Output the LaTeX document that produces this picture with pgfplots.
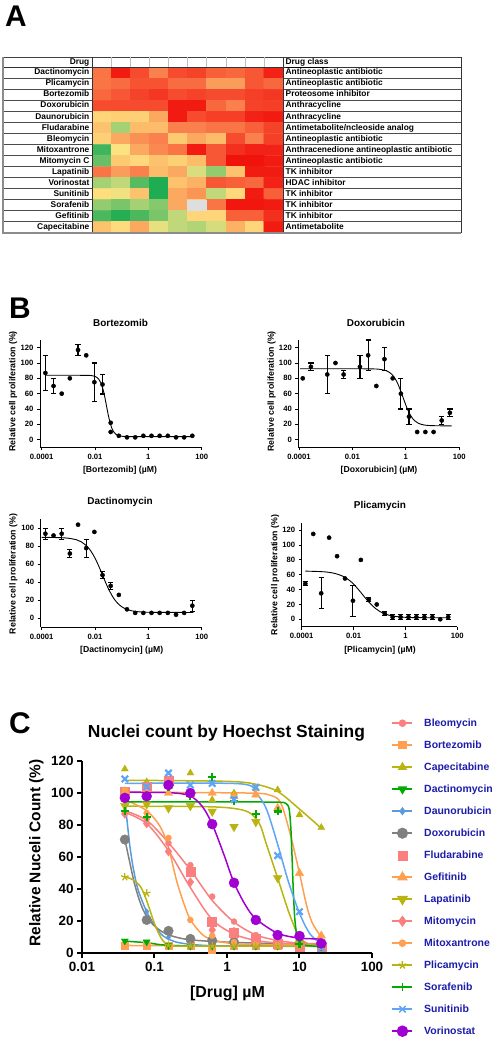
\documentclass[border=0pt]{standalone}
\usepackage{fontspec}
\setmainfont{Liberation Sans}
\usepackage{pgfplots}
\pgfplotsset{compat=1.18}

\definecolor{cSalmon}{RGB}{250,128,128}
\definecolor{cOrange}{RGB}{255,160,80}
\definecolor{cOlive}{RGB}{185,180,15}
\definecolor{cGreen}{RGB}{0,170,0}
\definecolor{cBlue}{RGB}{90,155,220}
\definecolor{cBlue2}{RGB}{95,165,245}
\definecolor{cGray}{RGB}{128,128,128}
\definecolor{cPurple}{RGB}{160,0,210}
\definecolor{legblue}{RGB}{28,28,170}
\newcommand{\fs}[1]{\fontsize{#1}{#1}\selectfont}

\pgfplotsset{
 ptsB/.style={only marks, mark=*, mark size=2.1bp, black, mark options={draw=black, fill=black}},
 ebB/.style={ptsB, error bars/y dir=both, error bars/y explicit,
  error bars/error bar style={line width=1.1bp, black},
  error bars/error mark options={rotate=90, mark size=2.6bp, line width=1.1bp, black}},
 fitB/.style={black, line width=0.9bp, smooth, mark=none},
 cC/.style={line width=1.5bp, smooth, mark=none},
 pC/.style={only marks, forget plot},
}

\begin{document}
\begin{tikzpicture}
\useasboundingbox (0,0) rectangle (501bp,-1049bp);

% ================= Panel A heatmap
\begin{axis}[at={(92bp,-67.3bp)}, anchor=north west, scale only axis, width=191bp, height=165.4bp,
  xmin=-0.5, xmax=9.5, ymin=-0.5, ymax=14.5, y dir=reverse, axis lines=none,
  colormap={hm}{rgb255=(20,170,80) rgb255=(100,190,100) rgb255=(185,215,120) rgb255=(255,228,130) rgb255=(252,188,105) rgb255=(250,132,78) rgb255=(246,72,45) rgb255=(240,15,10)},
  point meta min=0, point meta max=1]
\addplot[matrix plot*, mesh/cols=10, point meta=explicit] coordinates {
(0,0)[0.75] (1,0)[0.97] (2,0)[0.85] (3,0)[0.72] (4,0)[0.85] (5,0)[0.87] (6,0)[0.80] (7,0)[0.78] (8,0)[0.82] (9,0)[0.95]
(0,1)[0.75] (1,1)[0.77] (2,1)[0.83] (3,1)[0.83] (4,1)[0.77] (5,1)[0.77] (6,1)[0.65] (7,1)[0.65] (8,1)[0.82] (9,1)[0.78]
(0,2)[0.78] (1,2)[0.82] (2,2)[0.87] (3,2)[0.90] (4,2)[0.85] (5,2)[0.87] (6,2)[0.85] (7,2)[0.85] (8,2)[0.88] (9,2)[0.90]
(0,3)[0.85] (1,3)[0.85] (2,3)[0.85] (3,3)[0.85] (4,3)[0.97] (5,3)[0.97] (6,3)[0.78] (7,3)[0.72] (8,3)[0.87] (9,3)[0.88]
(0,4)[0.48] (1,4)[0.50] (2,4)[0.50] (3,4)[0.62] (4,4)[0.97] (5,4)[0.85] (6,4)[0.88] (7,4)[0.88] (8,4)[0.95] (9,4)[0.97]
(0,5)[0.55] (1,5)[0.25] (2,5)[0.57] (3,5)[0.57] (4,5)[0.72] (5,5)[0.72] (6,5)[0.75] (7,5)[0.75] (8,5)[0.80] (9,5)[0.87]
(0,6)[0.50] (1,6)[0.62] (2,6)[0.68] (3,6)[0.72] (4,6)[0.52] (5,6)[0.62] (6,6)[0.57] (7,6)[0.85] (8,6)[0.72] (9,6)[0.88]
(0,7)[0.08] (1,7)[0.42] (2,7)[0.62] (3,7)[0.70] (4,7)[0.75] (5,7)[0.97] (6,7)[0.82] (7,7)[0.92] (8,7)[0.95] (9,7)[0.95]
(0,8)[0.15] (1,8)[0.52] (2,8)[0.47] (3,8)[0.55] (4,8)[0.50] (5,8)[0.57] (6,8)[0.82] (7,8)[0.99] (8,8)[0.99] (9,8)[0.97]
(0,9)[0.75] (1,9)[0.65] (2,9)[0.72] (3,9)[0.57] (4,9)[0.62] (5,9)[0.35] (6,9)[0.22] (7,9)[0.55] (8,9)[0.97] (9,9)[0.97]
(0,10)[0.25] (1,10)[0.30] (2,10)[0.12] (3,10)[0.02] (4,10)[0.55] (5,10)[0.60] (6,10)[0.82] (7,10)[0.80] (8,10)[0.78] (9,10)[0.95]
(0,11)[0.45] (1,11)[0.40] (2,11)[0.55] (3,11)[0.02] (4,11)[0.62] (5,11)[0.67] (6,11)[0.30] (7,11)[0.47] (8,11)[0.97] (9,11)[0.80]
(0,12)[0.22] (1,12)[0.18] (2,12)[0.25] (3,12)[0.20] (4,12)[0.62] (5,12)[0.50] (6,12)[0.75] (7,12)[0.98] (8,12)[0.98] (9,12)[0.97]
(0,13)[0.10] (1,13)[0.03] (2,13)[0.10] (3,13)[0.18] (4,13)[0.30] (5,13)[0.48] (6,13)[0.48] (7,13)[0.80] (8,13)[0.80] (9,13)[0.92]
(0,14)[0.55] (1,14)[0.46] (2,14)[0.62] (3,14)[0.38] (4,14)[0.30] (5,14)[0.27] (6,14)[0.34] (7,14)[0.60] (8,14)[0.48] (9,14)[0.97]
};
\addplot[fill=black!13, draw=none] coordinates {(4.5,11.5) (5.5,11.5) (5.5,12.5) (4.5,12.5)} -- cycle;
\end{axis}

\begin{scope}[x=1bp,y=-1bp]
\node[anchor=base west, inner sep=0, font=\bfseries\fs{30}] at (5,26) {A};
\draw[line width=0.6bp, black!75] (3,57) -- (461,57);
\draw[line width=0.8bp, black!80] (3,67.3) -- (461,67.3);
\foreach \k in {1,...,14} {
  \draw[line width=0.5bp, black!70] (3,{67.3+11.03*\k}) -- (92,{67.3+11.03*\k});
  \draw[line width=0.5bp, black!70] (283,{67.3+11.03*\k}) -- (461,{67.3+11.03*\k});
}
\foreach \k in {1,...,9} { \draw[line width=0.4bp, black!25] ({92+19.1*\k},57) -- ({92+19.1*\k},67.3); }
\draw[line width=0.7bp, black!80] (92,57) -- (92,233);
\draw[line width=0.7bp, black!80] (283,57) -- (283,233);
\draw[line width=0.7bp, black!80] (461,57) -- (461,233);
\draw[line width=1.4bp, black!45] (3,57) -- (3,233) -- (461,233);
\node[anchor=east, inner sep=0, font=\bfseries\fs{8.4}, text height=6bp, text depth=1.8bp] at (89.5,62.2) {\underline{Drug}};
\node[anchor=west, inner sep=0, font=\bfseries\fs{8.4}, text height=6bp, text depth=1.8bp] at (285.5,62.2) {\underline{Drug class}};
\foreach \n [count=\i from 0] in {Dactinomycin,Plicamycin,Bortezomib,Doxorubicin,Daunorubicin,Fludarabine,Bleomycin,Mitoxantrone,Mitomycin C,Lapatinib,Vorinostat,Sunitinib,Sorafenib,Gefitinib,Capecitabine}
  \node[anchor=east, inner sep=0, font=\bfseries\fs{8.4}, text height=6bp, text depth=1.8bp] at (89.5,{72.8+11.03*\i}) {\n};
\foreach \n [count=\i from 0] in {Antineoplastic antibiotic,Antineoplastic antibiotic,Proteosome inhibitor,Anthracycline,Anthracycline,Antimetabolite/ncleoside analog,Antineoplastic antibiotic,Anthracenedione antineoplastic antibiotic,Antineoplastic antibiotic,TK inhibitor,HDAC inhibitor,TK inhibitor,TK inhibitor,TK inhibitor,Antimetabolite}
  \node[anchor=west, inner sep=0, font=\bfseries\fs{8.4}, text height=6bp, text depth=1.8bp] at (285.5,{72.8+11.03*\i}) {\n};

\node[anchor=base west, inner sep=0, font=\bfseries\fs{30}] at (9,318.3) {B};
\node[font=\bfseries\fs{10}] at (120.5,322.7) {Bortezomib};
\node[font=\bfseries\fs{10}] at (376,322.7) {Doxorubicin};
\node[font=\bfseries\fs{10}] at (120,502.3) {Dactinomycin};
\node[font=\bfseries\fs{10}] at (380,506) {Plicamycin};
\node[font=\bfseries\fs{8.7}] at (120,470) {[Bortezomib] (µM)};
\node[font=\bfseries\fs{8.7}] at (379,470) {[Doxorubicin] (µM)};
\node[font=\bfseries\fs{8.7}] at (121.7,650) {[Dactinomycin] (µM)};
\node[font=\bfseries\fs{8.7}] at (380,650) {[Plicamycin] (µM)};
\node[rotate=90, font=\bfseries\fs{8.8}] at (13,391.3) {Relative cell proliferation (\%)};
\node[rotate=90, font=\bfseries\fs{8.8}] at (271.7,391.3) {Relative cell proliferation (\%)};
\node[rotate=90, font=\bfseries\fs{8.8}] at (13.3,574) {Relative cell proliferation (\%)};
\node[rotate=90, font=\bfseries\fs{8.8}] at (275,575) {Relative cell proliferation (\%)};

\node[anchor=base west, inner sep=0, font=\bfseries\fs{30}] at (9,733.3) {C};
\node[anchor=base, inner sep=0, font=\bfseries\fs{17.5}] at (226.5,737.3) {Nuclei count by Hoechst Staining};
\node[font=\bfseries\fs{16}] at (227.5,993.5) {[Drug] µM};
\node[rotate=90, font=\bfseries\fs{15.5}] at (36.5,853) {Relative Nuceli Count (\%)};
\end{scope}

% ================= Panel B: Bortezomib
\begin{axis}[scale only axis, xmode=log, clip=false,
  axis x line*=bottom, axis y line*=left,
  axis line style={line width=0.9bp, black},
  every tick/.style={line width=0.9bp, black},
  tick align=outside, major tick length=3bp, minor tick length=0pt,
  xtick={1e-4,1e-2,1,100}, xticklabels={0.0001,0.01,1,100},
  tick label style={font=\bfseries\fs{7.7}},
  /pgf/number format/assume math mode=true,
  xmax=100, ymin=-10,
  at={(40bp,-340bp)}, anchor=north west, width=161.7bp, height=107.3bp,
  xmin=8.66e-5, ymax=130, ytick={0,20,...,120}]
\addplot[fitB] coordinates {(1.38e-4,84) (1e-3,84) (5.4e-3,83.87) (7.6e-3,83.5) (9.7e-3,82.7) (1.19e-2,81.1) (1.4e-2,78.5) (1.62e-2,74.8) (1.84e-2,69.9) (2.05e-2,64) (2.27e-2,57.4) (2.48e-2,50.6) (2.7e-2,44) (3.02e-2,35.1) (3.35e-2,27.8) (3.78e-2,20.5) (4.32e-2,14.6) (5.08e-2,9.9) (5.94e-2,7.3) (7.02e-2,5.7) (8.64e-2,4.76) (0.108,4.31) (0.162,4.06) (0.5,4) (49,4)};
\addplot[ptsB] coordinates {(5.65e-4,60) (1.14e-3,80) (4.68e-3,110) (3.87e-2,22) (3.87e-2,10) (7.83e-2,5) (0.158,3) (0.321,3) (0.649,5) (1.31,5) (2.65,5) (5.37,5) (10.9,3) (22,3) (44.5,5)};
\addplot[ebB] coordinates {(1.38e-4,87) +- (0,22.5) (2.79e-4,70) +- (0,10) (2.31e-3,117) +- (0,7.5) (9.46e-3,75) +- (0,25) (1.91e-2,72) +- (0,12.5)};
\end{axis}

% Doxorubicin
\begin{axis}[scale only axis, xmode=log, clip=false,
  axis x line*=bottom, axis y line*=left,
  axis line style={line width=0.9bp, black},
  every tick/.style={line width=0.9bp, black},
  tick align=outside, major tick length=3bp, minor tick length=0pt,
  xtick={1e-4,1e-2,1,100}, xticklabels={0.0001,0.01,1,100},
  tick label style={font=\bfseries\fs{7.7}},
  /pgf/number format/assume math mode=true,
  xmax=100, ymin=-10,
  at={(298.3bp,-340bp)}, anchor=north west, width=161bp, height=107.3bp,
  xmin=9.4e-5, ymax=130, ytick={0,20,...,120}]
\addplot[fitB] coordinates {(1.1e-4,92.5) (0.01,92.5) (0.05,92.3) (0.1,91.85) (0.2,89.4) (0.3,85.05) (0.4,79.3) (0.5,72.8) (0.65,62.9) (0.8,54.2) (1.0,44.9) (1.3,35.6) (1.7,28.6) (2.2,24.3) (3,21.2) (4.5,19.3) (7,18.5) (15,18.1) (52,18)};
\addplot[ptsB] coordinates {(1.38e-4,80) (2.31e-3,100) (7.83e-2,70) (0.321,80) (2.65,10) (5.37,10) (10.9,10)};
\addplot[ebB] coordinates {(2.79e-4,95) +- (0,5) (1.14e-3,85) +- (0,25) (4.68e-3,85) +- (0,5) (1.91e-2,95) +- (0,15) (3.87e-2,110) +- (0,20) (0.158,105) +- (0,15) (0.649,60) +- (0,20) (1.31,30) +- (0,10) (22,25) +- (0,5) (44.5,35) +- (0,5)};
\end{axis}

% Dactinomycin
\begin{axis}[scale only axis, xmode=log, clip=false,
  axis x line*=bottom, axis y line*=left,
  axis line style={line width=0.9bp, black},
  every tick/.style={line width=0.9bp, black},
  tick align=outside, major tick length=3bp, minor tick length=0pt,
  xtick={1e-4,1e-2,1,100}, xticklabels={0.0001,0.01,1,100},
  tick label style={font=\bfseries\fs{7.7}},
  /pgf/number format/assume math mode=true,
  xmax=100, ymin=-10,
  at={(40.7bp,-519.3bp)}, anchor=north west, width=161bp, height=108bp,
  xmin=9.2e-5, ymax=110, ytick={0,20,...,100}]
\addplot[fitB] coordinates {(1e-4,90) (5e-4,89.6) (1e-3,89.0) (2e-3,87.3) (3e-3,85.1) (5e-3,80.1) (7e-3,74.7) (0.01,66.9) (0.014,57.6) (0.019,48.25) (0.026,38.6) (0.035,30.4) (0.05,22.3) (0.07,16.8) (0.1,12.9) (0.15,10.1) (0.25,8.2) (0.5,7.1) (1,6.7) (3,6.55) (49,6.5)};
\addplot[ptsB] coordinates {(2.79e-4,92) (2.31e-3,104) (9.46e-3,96) (7.83e-2,26) (0.158,10) (0.321,6) (0.649,6) (1.31,6) (2.65,6) (5.37,6) (10.9,4) (22,6)};
\addplot[ebB] coordinates {(1.38e-4,94) +- (0,6) (5.65e-4,94) +- (0,6) (1.14e-3,72) +- (0,4) (4.68e-3,78) +- (0,10) (1.91e-2,48) +- (0,4) (3.87e-2,36) +- (0,4) (44.5,14) +- (0,6)};
\end{axis}

% Plicamycin
\begin{axis}[scale only axis, xmode=log, clip=false,
  axis x line*=bottom, axis y line*=left,
  axis line style={line width=0.9bp, black},
  every tick/.style={line width=0.9bp, black},
  tick align=outside, major tick length=3bp, minor tick length=0pt,
  xtick={1e-4,1e-2,1,100}, xticklabels={0.0001,0.01,1,100},
  tick label style={font=\bfseries\fs{7.7}},
  /pgf/number format/assume math mode=true,
  xmax=100, ymin=-10,
  at={(301.7bp,-522.8bp)}, anchor=north west, width=155.6bp, height=103.9bp,
  xmin=1e-4, ymax=130, ytick={0,20,...,120}]
\addplot[fitB] coordinates {(1.38e-4,64.9) (5e-4,64.3) (1e-3,63.5) (2e-3,61.6) (4e-3,57.8) (7e-3,52.3) (0.01,47.4) (0.015,40.6) (0.022,33.5) (0.03,27.7) (0.045,20.75) (0.07,14.6) (0.1,10.8) (0.16,7.34) (0.25,5.23) (0.4,3.88) (0.7,2.98) (1.3,2.47) (3,2.17) (44.5,2.0)};
\addplot[ptsB] coordinates {(2.79e-4,115) (1.14e-3,110) (2.31e-3,85) (4.68e-3,55) (1.91e-2,80) (7.83e-2,20) (22,0)};
\addplot[ebB] coordinates {(1.38e-4,48) +- (0,3) (5.65e-4,35) +- (0,21) (9.46e-3,25) +- (0,21) (3.87e-2,27) +- (0,2.5) (0.158,8) +- (0,3) (0.321,3) +- (0,3) (0.649,3) +- (0,3) (1.31,3) +- (0,3) (2.65,3) +- (0,3) (5.37,3) +- (0,3) (10.9,3) +- (0,3) (44.5,3) +- (0,3)};
\end{axis}

% ================= Panel C
\begin{axis}[at={(82bp,-761bp)}, anchor=north west, scale only axis, width=290bp, height=192.3bp,
 xmode=log, xmin=0.01, xmax=100, ymin=0, ymax=120,
 axis x line*=bottom, axis y line*=left, clip=false,
 axis line style={line width=2bp, black},
 every tick/.style={line width=2bp, black},
 tick align=outside, major tick length=5bp, minor tick length=0pt,
 xtick={0.01,0.1,1,10,100}, xticklabels={0.01,0.1,1,10,100},
 ytick={0,20,...,120},
 tick label style={font=\bfseries\fs{13.5}},
 /pgf/number format/assume math mode=true,
 legend image code/.code={\draw[mark repeat=2,mark phase=2,#1] plot coordinates {(0bp,0bp) (10bp,0bp) (20bp,0bp)};},
 legend cell align=left,
 legend style={draw=none, fill=none, at={(1.068,1.2226)}, anchor=north west, inner sep=0pt, outer sep=0pt,
   row sep=12bp, column sep=11bp, font=\bfseries\fs{10.5},
   nodes={text=legblue, inner sep=0pt, text height=7.8bp, text depth=2.2bp}},
]
\addplot[cSalmon, cC, legend image post style={mark=*, mark size=3bp}] coordinates {(0.039,89) (0.078,83) (0.156,69) (0.3125,52) (0.625,33) (1.25,19.5) (2.5,11.5) (5,8) (10,6.3) (20,5.5)};
\addlegendentry{Bleomycin}
\addplot[cSalmon, pC, mark=*, mark size=3bp] coordinates {(0.039,88) (0.078,84) (0.156,68.7) (0.3125,55) (0.625,35.4) (1.25,19.8) (2.5,11.4) (5,8.3) (10,6.5) (20,5)};
\addplot[cOrange, cC, legend image post style={mark=square*, mark size=3.5bp}] coordinates {(0.039,4.9) (0.3,4.7) (20,4.6)};
\addlegendentry{Bortezomib}
\addplot[cOrange, pC, mark=square*, mark size=3.5bp] coordinates {(0.039,5) (0.078,4.8) (0.156,4.5) (0.3125,4.5) (0.625,2) (1.25,4.8) (2.5,4.8) (5,4.8) (10,4.8) (20,4.8)};
\addplot[cOlive, cC, legend image post style={mark=triangle*, mark size=4bp}] coordinates {(0.039,108) (1,107.3) (2.5,105.5) (5,101) (10,90) (20,78)};
\addlegendentry{Capecitabine}
\addplot[cOlive, pC, mark=triangle*, mark size=4bp] coordinates {(0.039,115) (0.078,107) (0.156,104) (0.3125,112.5) (0.625,95.8) (1.25,100) (2.5,103) (5,102) (10,86.4) (20,78.5)};
\addplot[cGreen, cC, legend image post style={mark=triangle*, mark size=4bp, mark options={rotate=180}}] coordinates {(0.039,7.6) (0.078,6.6) (0.12,5.4) (0.2,4.8) (0.5,4.5) (20,4.5)};
\addlegendentry{Dactinomycin}
\addplot[cGreen, pC, mark=triangle*, mark size=4bp, mark options={rotate=180}] coordinates {(0.039,7.7) (0.078,7.1) (0.156,4.8) (0.3125,4.5) (0.625,4.5) (1.25,4.5) (2.5,4.5) (5,4.5) (10,4.5) (20,4.5)};
\addplot[cBlue, cC, legend image post style={mark=diamond*, mark size=3bp}] coordinates {(0.039,95) (0.042,82) (0.046,66) (0.052,51) (0.06,39) (0.078,26) (0.1,17.5) (0.13,11) (0.2,7) (0.4,5.2) (1,4.6) (20,4.3)};
\addlegendentry{Daunorubicin}
\addplot[cBlue, pC, mark=diamond*, mark size=3bp] coordinates {(0.039,95) (0.078,26) (0.156,10) (0.3125,5) (0.625,5) (1.25,4.5) (2.5,4.5) (5,4.5) (10,4.5) (20,3)};
\addplot[cGray, cC, legend image post style={mark=*, mark size=4.8bp}] coordinates {(0.039,71) (0.045,58) (0.052,45) (0.06,35) (0.07,27) (0.085,20.5) (0.11,15.5) (0.156,11.5) (0.3,8.5) (1,7) (5,6) (20,5.5)};
\addlegendentry{Doxorubicin}
\addplot[cGray, pC, mark=*, mark size=4.8bp] coordinates {(0.039,71) (0.078,20.8) (0.156,14) (0.3125,9) (0.625,8) (1.25,7) (2.5,6.5) (5,6) (10,6) (20,5.5)};
\addplot[cSalmon, only marks, mark=square*, mark size=4.5bp] coordinates {(0.039,101) (0.078,104) (0.156,108) (0.3125,51) (0.625,19.8) (1.25,12.6) (2.5,9) (5,6) (10,4) (20,4)};
\addlegendentry{Fludarabine}
\addplot[cOrange, cC, legend image post style={mark=triangle*, mark size=4.8bp}] coordinates {(0.039,100.5) (2,100) (4,98.5) (5.5,94) (7.4,75) (10,50) (12.5,30) (15,19) (20,10)};
\addlegendentry{Gefitinib}
\addplot[cOrange, pC, mark=triangle*, mark size=4.8bp] coordinates {(0.039,101) (0.078,100) (0.156,100) (0.3125,99) (0.625,100) (1.25,98) (2.5,99) (5,90.6) (10,50) (20,11)};
\addplot[cOlive, cC, legend image post style={mark=triangle*, mark size=5bp, mark options={rotate=180}}] coordinates {(0.039,91.8) (0.5,91.5) (1.2,90.5) (2,88) (2.8,81) (3.5,68) (5,47) (7.2,25) (10,10) (14,5.5) (20,4.5)};
\addlegendentry{Lapatinib}
\addplot[cOlive, pC, mark=triangle*, mark size=5bp, mark options={rotate=180}] coordinates {(0.039,92) (0.078,93) (0.156,90.6) (0.3125,92) (0.625,88.5) (1.25,79) (2.5,82) (5,47) (10,6) (20,5)};
\addplot[cSalmon, cC, legend image post style={mark=diamond*, mark size=4.5bp}] coordinates {(0.039,88) (0.078,81) (0.156,64) (0.3125,41) (0.625,21) (1.25,12) (2.5,8) (5,6.5) (10,6) (20,6)};
\addlegendentry{Mitomycin}
\addplot[cSalmon, pC, mark=diamond*, mark size=4.5bp] coordinates {(0.039,87) (0.078,81) (0.156,63.5) (0.3125,44.4) (0.625,14.6) (1.25,13.5) (2.5,8) (5,6) (10,5) (20,5)};
\addplot[cOrange, cC, legend image post style={mark=*, mark size=3bp}] coordinates {(0.039,96) (0.078,89) (0.12,79) (0.156,66) (0.2,46) (0.25,32) (0.3125,21) (0.45,12) (0.625,8.5) (1.25,6) (5,5.2) (20,5)};
\addlegendentry{Mitoxantrone}
\addplot[cOrange, pC, mark=*, mark size=3bp] coordinates {(0.039,102) (0.078,87.5) (0.156,72) (0.3125,20.8) (0.625,11) (1.25,7) (2.5,5.5) (5,5) (10,5) (20,5)};
\addplot[cOlive, cC, legend image post style={mark=star, mark size=4bp}] coordinates {(0.039,47.8) (0.05,46) (0.062,42.5) (0.072,37) (0.085,28) (0.1,18.5) (0.12,10.5) (0.14,6.5) (0.18,4.8) (0.3,4.5) (20,4.5)};
\addlegendentry{Plicamycin}
\addplot[cOlive, pC, mark=star, mark size=4bp, line width=1.2bp] coordinates {(0.039,47.6) (0.078,37.5) (0.156,5) (0.3125,4.5) (0.625,4.5) (1.25,4.5) (2.5,4.5) (5,4.5) (10,4.5) (20,4.5)};
\addplot[cGreen, cC, legend image post style={mark=+, mark size=4bp}] coordinates {(0.039,94.5) (1,94.5) (5,94.3) (6.5,93.5) (7.2,90) (7.6,78) (7.9,60) (8.2,40) (8.6,22) (9.2,11) (10,7) (12,5) (20,4.2)};
\addlegendentry{Sorafenib}
\addplot[cGreen, pC, mark=+, mark size=4bp, line width=2.2bp] coordinates {(0.039,89) (0.078,85) (0.156,104) (0.3125,98) (0.625,110) (1.25,95) (2.5,87) (5,88.5) (10,6) (20,4)};
\addplot[cBlue2, cC, legend image post style={mark=x, mark size=4.5bp}] coordinates {(0.039,106) (1.5,105.8) (2.5,100) (3.5,90) (5,68) (7,45) (10,25) (14,12) (20,6)};
\addlegendentry{Sunitinib}
\addplot[cBlue2, pC, mark=x, mark size=4.5bp, line width=2.2bp] coordinates {(0.039,108.8) (0.078,104) (0.156,112.5) (0.3125,105) (0.625,106) (1.25,96) (2.5,103.5) (5,61) (10,26) (20,3.3)};
\addplot[cPurple, cC, legend image post style={mark=*, mark size=5bp}] coordinates {(0.039,100.5) (0.15,100.3) (0.3,98.5) (0.45,92) (0.625,80.6) (0.9,62) (1.25,44) (1.8,30) (2.5,21.5) (5,12.5) (10,9.5) (20,9)};
\addlegendentry{Vorinostat}
\addplot[cPurple, pC, mark=*, mark size=5bp] coordinates {(0.039,97) (0.078,98) (0.156,105) (0.3125,100) (0.625,80.6) (1.25,44) (2.5,20.8) (5,11.4) (10,10.8) (20,6.2)};
\end{axis}
\end{tikzpicture}
\end{document}
